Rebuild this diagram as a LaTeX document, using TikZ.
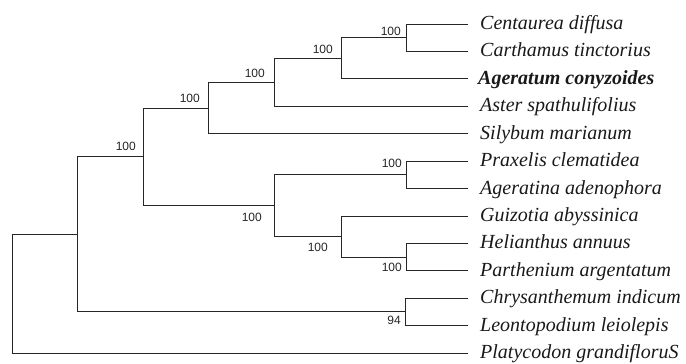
\documentclass[tikz,border=0pt]{standalone}
\usepackage{fontspec}
\setmainfont{Liberation Serif}
\newfontfamily\labfont{Liberation Sans}
\begin{document}
\begin{tikzpicture}[x=1pt,y={(0pt,-1pt)},
  br/.style={draw=black!85,line width=0.9pt},
  taxon/.style={anchor=base west,inner sep=0pt,font=\fontsize{20}{22}\selectfont\itshape,text=black!90},
  boot/.style={anchor=east,inner sep=0pt,font=\labfont\fontsize{12}{13}\selectfont,text=black!85}]
\useasboundingbox (0,0) rectangle (686,364);
% leaf tips
\coordinate (l0) at (468,24.0);
\coordinate (l1) at (468,51.4);
\coordinate (l2) at (468,78.8);
\coordinate (l3) at (468,106.3);
\coordinate (l4) at (468,133.7);
\coordinate (l5) at (468,161.1);
\coordinate (l6) at (468,188.5);
\coordinate (l7) at (468,216.0);
\coordinate (l8) at (468,243.4);
\coordinate (l9) at (468,270.8);
\coordinate (l10) at (468,298.2);
\coordinate (l11) at (468,325.6);
\coordinate (l12) at (468,353.0);
% internal nodes
\coordinate (F) at (406,37.7);
\coordinate (E) at (341,58.3);
\coordinate (D) at (274,82.3);
\coordinate (C) at (208,108.0);
\coordinate (P) at (406,174.8);
\coordinate (Q) at (406,257.1);
\coordinate (H) at (341,236.6);
\coordinate (G) at (274,205.7);
\coordinate (B) at (143,156.9);
\coordinate (K) at (405,311.9);
\coordinate (A) at (77,234.4);
\coordinate (R) at (12,293.7);
% branches
\draw[br] (F) |- (l0);
\draw[br] (F) |- (l1);
\draw[br] (E) |- (F);
\draw[br] (E) |- (l2);
\draw[br] (D) |- (E);
\draw[br] (D) |- (l3);
\draw[br] (C) |- (D);
\draw[br] (C) |- (l4);
\draw[br] (P) |- (l5);
\draw[br] (P) |- (l6);
\draw[br] (Q) |- (l8);
\draw[br] (Q) |- (l9);
\draw[br] (H) |- (l7);
\draw[br] (H) |- (Q);
\draw[br] (G) |- (P);
\draw[br] (G) |- (H);
\draw[br] (B) |- (C);
\draw[br] (B) |- (G);
\draw[br] (K) |- (l10);
\draw[br] (K) |- (l11);
\draw[br] (A) |- (B);
\draw[br] (A) |- (K);
\draw[br] (R) |- (A);
\draw[br] (R) |- (l12);
% taxa
\node[taxon] (t0) at (480,29.5) {Centaurea diffusa};
\node[taxon] (t1) at (480,56.9) {Carthamus tinctorius};
\node[taxon,font=\fontsize{20}{22}\selectfont\bfseries\itshape] (t2) at (478,84.3) {Ageratum conyzoides};
\node[taxon] (t3) at (480,111.8) {Aster spathulifolius};
\node[taxon] (t4) at (480,139.2) {Silybum marianum};
\node[taxon] (t5) at (480,166.6) {Praxelis clematidea};
\node[taxon] (t6) at (480,194.0) {Ageratina adenophora};
\node[taxon] (t7) at (480,221.5) {Guizotia abyssinica};
\node[taxon] (t8) at (480,248.9) {Helianthus annuus};
\node[taxon] (t9) at (480,276.3) {Parthenium argentatum};
\node[taxon] (t10) at (480,303.7) {Chrysanthemum indicum};
\node[taxon] (t11) at (480,331.1) {Leontopodium leiolepis};
\node[taxon] (t12) at (480,358.5) {Platycodon grandifloruS};
% bootstrap values
\node[boot] (bF) at (401,31) {100};
\node[boot] (bE) at (333,49) {100};
\node[boot] (bD) at (265,73) {100};
\node[boot] (bC) at (200,98.3) {100};
\node[boot] (bB) at (136,146.7) {100};
\node[boot] (bP) at (402,163) {100};
\node[boot] (bG) at (262,217) {100};
\node[boot] (bH) at (328,247) {100};
\node[boot] (bQ) at (402,267) {100};
\node[boot] (bK) at (401,320) {94};
\end{tikzpicture}
\end{document}
